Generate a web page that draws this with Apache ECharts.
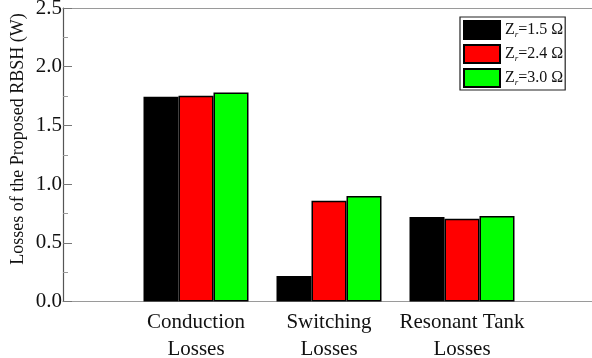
<!DOCTYPE html>
<html>
<head>
<meta charset="utf-8">
<script src="https://cdn.jsdelivr.net/npm/echarts@6/dist/echarts.min.js"></script>
<style>html,body{margin:0;padding:0;background:#fff;}#c{width:592px;height:358px;}</style>
</head>
<body>
<div id="c"></div>
<script>
const categories = ['', 'Conduction\nLosses', 'Switching\nLosses', 'Resonant Tank\nLosses', ''];
const seriesNames = ['Zr=1.5 Ω', 'Zr=2.4 Ω', 'Zr=3.0 Ω'];
const legendLabels = ['Z{s|r}=1.5 Ω', 'Z{s|r}=2.4 Ω', 'Z{s|r}=3.0 Ω'];
const zr15 = [null, 1.745, 0.217, 0.72, null];
const zr24 = [null, 1.753, 0.859, 0.705, null];
const zr30 = [null, 1.78, 0.899, 0.728, null];
const colors = ['#000000', '#ff0000', '#00ff00'];
const yTicks = ['0.0', '0.5', '1.0', '1.5', '2.0', '2.5'];
const yTitle = 'Losses of the Proposed RBSH (W)';

const font = 'Liberation Serif, Times New Roman, serif';
const chart = echarts.init(document.getElementById('c'), null, {renderer: 'canvas'});
const dataSets = [zr15, zr24, zr30];
chart.setOption({
  animation: false,
  backgroundColor: '#fff',
  grid: {left: 63, top: 8, width: 532, height: 293.5, show: false,
         containLabel: false, outerBoundsMode: 'none'},
  legend: {
    orient: 'vertical', left: 460, top: 17,
    data: seriesNames,
    itemWidth: 36, itemHeight: 18, itemGap: 4,
    padding: [3, 2, 2, 3],
    borderColor: '#222', borderWidth: 1.2,
    icon: 'rect',
    formatter: function (n) { return legendLabels[seriesNames.indexOf(n)]; },
    textStyle: {
      fontFamily: font, fontSize: 16, color: '#111', lineHeight: 18,
      rich: {s: {fontFamily: font, fontSize: 9, fontStyle: 'italic', color: '#111', verticalAlign: 'bottom', padding: [6, 0, 0, 0]}}
    }
  },
  xAxis: [{
    type: 'category', data: categories, boundaryGap: false, position: 'bottom',
    axisLine: {lineStyle: {color: '#9a9a9a', width: 1.2}},
    axisTick: {show: false},
    axisLabel: {fontFamily: font, fontSize: 21, color: '#111', lineHeight: 27, margin: 7, interval: 0},
    splitLine: {show: false}
  }, {
    type: 'category', data: categories, boundaryGap: false, position: 'top',
    axisLine: {show: true, lineStyle: {color: '#9a9a9a', width: 1.2}},
    axisTick: {show: false}, axisLabel: {show: false}, splitLine: {show: false}
  }],
  yAxis: {
    type: 'value', min: 0, max: 2.5, interval: 0.5,
    axisLine: {show: true, lineStyle: {color: '#555', width: 1.2}},
    axisTick: {show: true, inside: true, length: 9, lineStyle: {color: '#777'}},
    minorTick: {show: true, splitNumber: 2, length: 5, lineStyle: {color: '#999'}},
    axisLabel: {fontFamily: font, fontSize: 21, color: '#111', margin: 1,
      formatter: function (v) { return yTicks[Math.round(v / 0.5)]; }},
    splitLine: {show: false}
  },
  graphic: [{
    type: 'text', x: 18, y: 139, rotation: Math.PI / 2,
    style: {text: yTitle, font: '18px ' + font, fill: '#111', align: 'center', verticalAlign: 'middle'}
  }],
  series: dataSets.map(function (d, i) {
    return {
      name: seriesNames[i], type: 'bar', data: d, xAxisIndex: 0,
      barWidth: 35, barGap: '0%',
      itemStyle: {color: colors[i], borderColor: '#000', borderWidth: 1.5}
    };
  })
});
</script>
</body>
</html>
